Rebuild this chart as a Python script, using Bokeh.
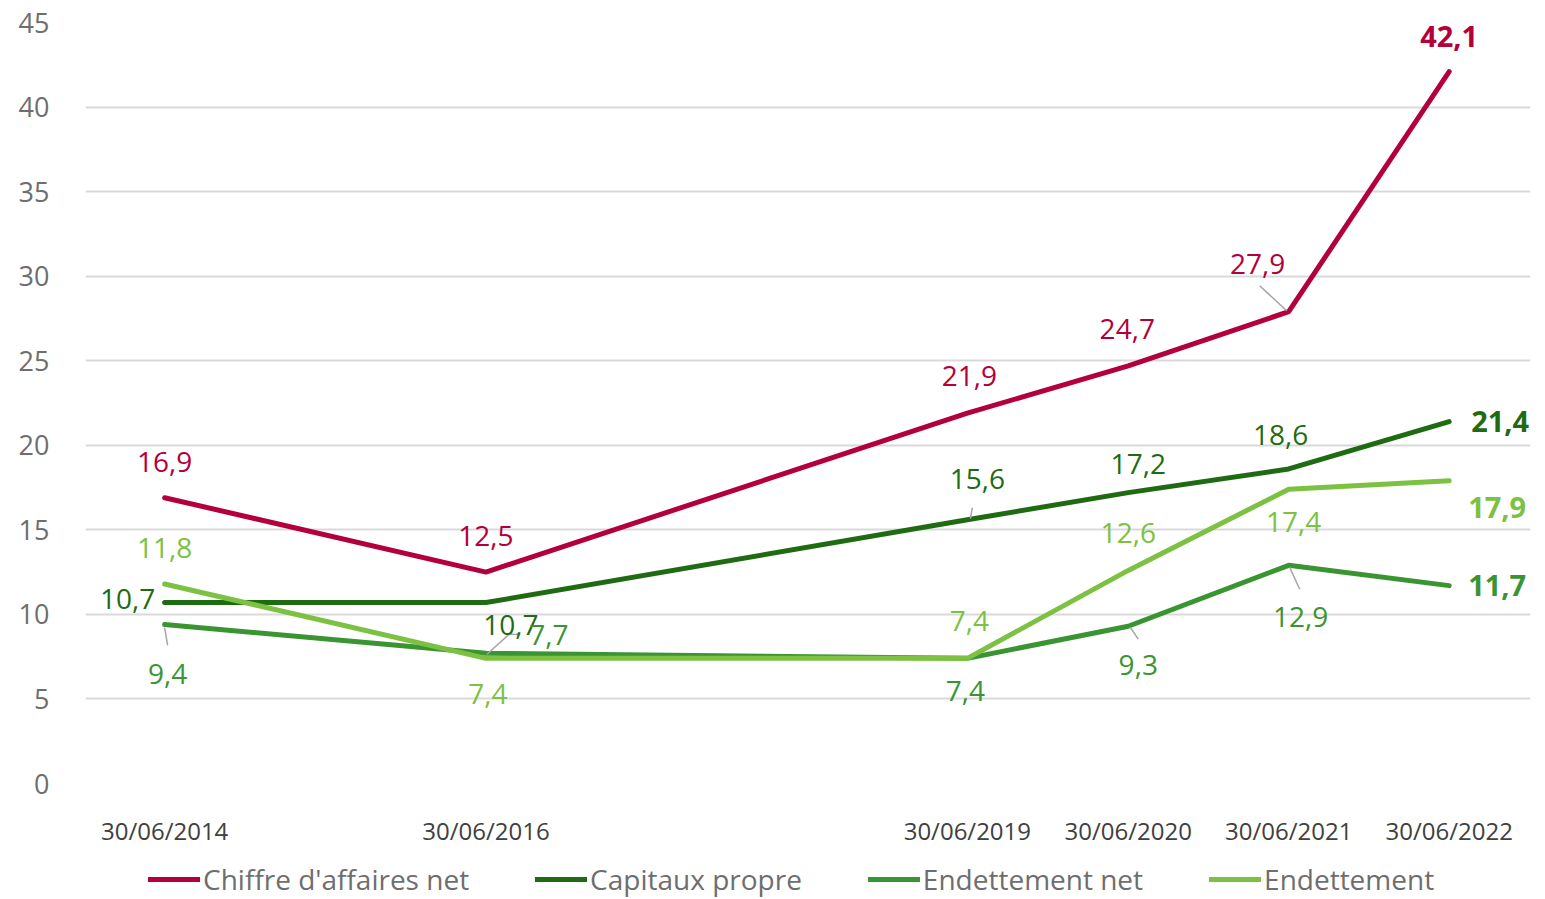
import pandas as pd
from bokeh.plotting import figure
from bokeh.layouts import column
from bokeh.models import (ColumnDataSource, FixedTicker, DatetimeTickFormatter, Legend,
                          LegendItem, Range1d)
from bokeh.core.properties import value
from bokeh.embed import file_html
from bokeh.resources import INLINE

# ---------------- data ----------------
dates = ["2014-06-30", "2016-06-30", "2019-06-30", "2020-06-30", "2021-06-30", "2022-06-30"]
series_names = ["Chiffre d'affaires net", "Capitaux propre", "Endettement net", "Endettement"]
chiffre_affaires = [16.9, 12.5, 21.9, 24.7, 27.9, 42.1]
capitaux_propre = [10.7, 10.7, 15.6, 17.2, 18.6, 21.4]
endettement_net = [9.4, 7.7, 7.4, 9.3, 12.9, 11.7]
endettement = [11.8, 7.4, 7.4, 12.6, 17.4, 17.9]
y_ticks = [0, 5, 10, 15, 20, 25, 30, 35, 40, 45]

# ---------------- styles ----------------
FONT = "Open Sans"
colors = ["#B3003A", "#1F6B12", "#3A9431", "#7CC142"]
# label offsets in pixels (dx, dy; dy positive = downwards)
label_offsets = [
    [(0, -36), (0, -36), (2, -37), (-1, -37), (-31, -48), (0, -35)],
    [(-37, -4), (25, 22), (10, -41), (10, -29), (-8, -34), (51, 0)],
    [(3, 49), (63, -18), (-2, 33), (10, 39), (12, 52), (48, 0)],
    [(0, -36), (2, 36), (2, -37), (0, -37), (5, 33), (48, 27)],
]
# leader lines: (series, point index, start px offset, end px offset)
leaders = [
    (0, 4, (-29, -26), (-2, -1)),
    (1, 1, (1, 52), (23, 32)),
    (1, 1, (23, 32), (33, 32)),
    (1, 2, (3, -1), (5, -12)),
    (2, 0, (0, 3), (3, 21)),
    (2, 3, (2, 1), (10, 13)),
    (2, 4, (1, 2), (11, 24)),
]
PX_PER_DAY = 160.6 / 365.25
PX_PER_UNIT = 17.0

x = pd.to_datetime(dates)
all_series = [chiffre_affaires, capitaux_propre, endettement_net, endettement]

p = figure(width=1537, height=849, x_axis_type="datetime", output_backend="svg",
           toolbar_location=None, min_border_left=85, min_border_right=7,
           min_border_top=22, min_border_bottom=62)
p.x_range = Range1d(pd.Timestamp("2014-01-01"), pd.Timestamp("2023-01-01"))
p.y_range = Range1d(0, 45)
p.outline_line_color = None
p.background_fill_color = "white"
p.border_fill_color = "white"

p.xgrid.grid_line_color = None
p.ygrid.grid_line_color = "#D9D9D9"
p.ygrid.grid_line_width = 2

p.yaxis.ticker = FixedTicker(ticks=y_ticks)
p.yaxis.axis_line_color = None
p.yaxis.major_tick_line_color = None
p.yaxis.minor_tick_line_color = None
p.yaxis.major_label_text_font = FONT
p.yaxis.major_label_text_font_size = "27px"
p.yaxis.major_label_text_color = "#6E6E6E"
p.yaxis.major_label_standoff = 30

p.xaxis.ticker = FixedTicker(ticks=[t.value // 10**6 for t in x])
fmt = "%d/%m/%Y"
p.xaxis.formatter = DatetimeTickFormatter(milliseconds=fmt, seconds=fmt, minsec=fmt, minutes=fmt,
                                          hourmin=fmt, hours=fmt, days=fmt, months=fmt, years=fmt)
p.xaxis.axis_line_color = None
p.xaxis.major_tick_line_color = None
p.xaxis.minor_tick_line_color = None
p.xaxis.major_label_text_font = FONT
p.xaxis.major_label_text_font_size = "24px"
p.xaxis.major_label_text_color = "#404040"
p.xaxis.major_label_standoff = 24

sources = []
for i, (name, vals) in enumerate(zip(series_names, all_series)):
    src = ColumnDataSource(dict(x=x, y=vals))
    sources.append(src)
    p.line("x", "y", source=src, line_color=colors[i], line_width=5,
           line_cap="round", line_join="round")

# leader lines
for (si, pi, s, e) in leaders:
    xv = x[pi]
    yv = all_series[si][pi]
    x0 = xv + pd.Timedelta(days=s[0] / PX_PER_DAY)
    y0 = yv - s[1] / PX_PER_UNIT
    x1 = xv + pd.Timedelta(days=e[0] / PX_PER_DAY)
    y1 = yv - e[1] / PX_PER_UNIT
    p.segment(x0=[x0], y0=[y0], x1=[x1], y1=[y1], line_color="#A6A6A6", line_width=1.5)

# data labels
for i, vals in enumerate(all_series):
    labels = [f"{v:.1f}".replace(".", ",") for v in vals]
    src_reg = ColumnDataSource(dict(x=x[:-1], y=vals[:-1], label=labels[:-1],
                                    dx=[o[0] for o in label_offsets[i][:-1]],
                                    dy=[o[1] for o in label_offsets[i][:-1]]))
    p.text("x", "y", text="label", source=src_reg, x_offset="dx", y_offset="dy",
           text_align="center", text_baseline="middle", text_color=colors[i],
           text_font=value(FONT), text_font_size="28px")
    src_last = ColumnDataSource(dict(x=x[-1:], y=vals[-1:], label=labels[-1:],
                                     dx=[label_offsets[i][-1][0]], dy=[label_offsets[i][-1][1]]))
    p.text("x", "y", text="label", source=src_last, x_offset="dx", y_offset="dy",
           text_align="center", text_baseline="middle", text_color=colors[i],
           text_font=value(FONT), text_font_size="29px", text_font_style="bold")

# ---------------- legend strip ----------------
lg = figure(width=1537, height=50, output_backend="svg", toolbar_location=None,
            min_border=0, x_range=Range1d(0, 1), y_range=Range1d(0, 1),
            x_axis_location=None, y_axis_location=None)
lg.grid.visible = False
lg.outline_line_color = None
items = []
for i, name in enumerate(series_names):
    # same series drawn outside the strip's visible range: only the legend swatch shows
    r = lg.line("x", "y", source=sources[i], line_color=colors[i], line_width=5, line_cap="round")
    items.append(LegendItem(label=name, renderers=[r]))
legend = Legend(items=items, orientation="horizontal", location=(63, 1),
                label_text_font=FONT, label_text_font_size="28px", label_text_color="#6E6E6E",
                glyph_width=52, glyph_height=26, label_standoff=3, spacing=66,
                border_line_color=None, background_fill_alpha=0, padding=0, margin=0)
lg.add_layout(legend, "center")

open("out.html", "w").write(file_html(column(p, lg, spacing=0), INLINE))
